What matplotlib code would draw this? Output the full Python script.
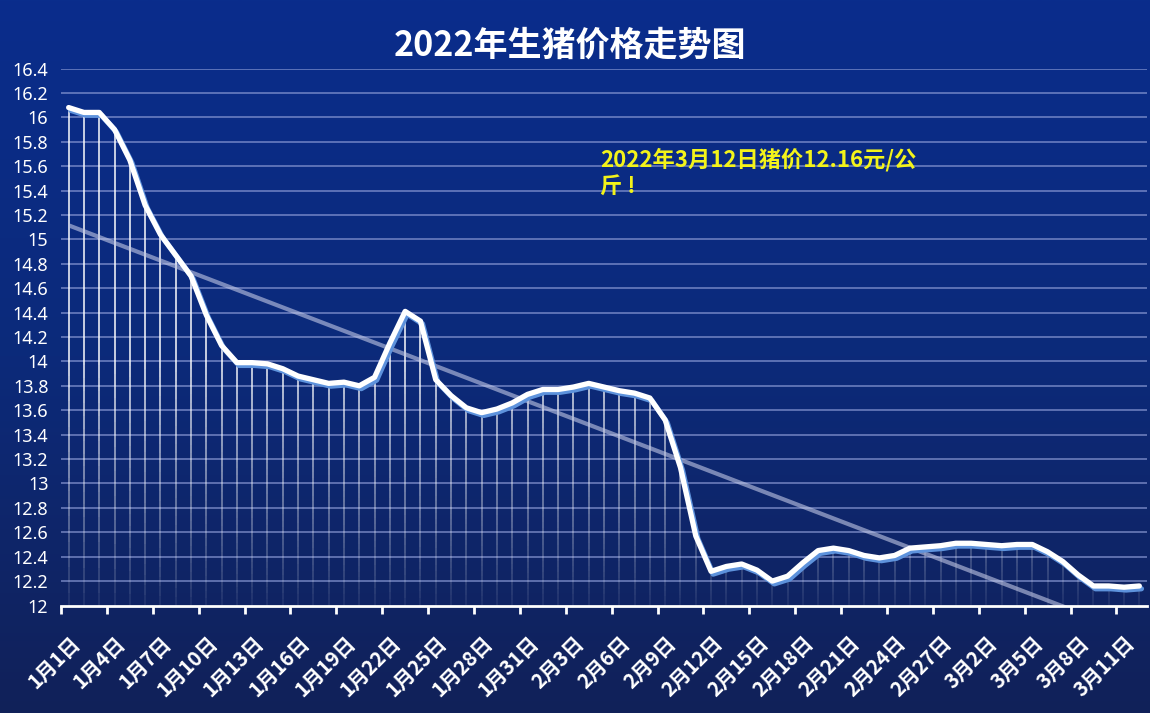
import numpy as np
import matplotlib
matplotlib.use('Agg')
import matplotlib.pyplot as plt
import matplotlib.patheffects as pe
from matplotlib.collections import LineCollection
from matplotlib.colors import LinearSegmentedColormap

## 2022 hog price chart, daily from Jan 1 to Mar 12

plt.rcParams['font.family'] = ['Noto Sans CJK SC', 'DejaVu Sans']
plt.rcParams['font.weight'] = 'bold'

title = '2022年生猪价格走势图'
note = '2022年3月12日猪价12.16元/公\n斤 !'

# categories: 1月1日 ... 3月12日
month_days = [(1, 31), (2, 28), (3, 12)]
dates = [f'{m}月{d}日' for m, n in month_days for d in range(1, n + 1)]

# price, 元/公斤
prices = [16.08, 16.04, 16.04, 15.90, 15.65, 15.28, 15.04, 14.87, 14.70, 14.38,
          14.13, 13.99, 13.99, 13.98, 13.94, 13.88, 13.85, 13.82, 13.83, 13.80,
          13.87, 14.15, 14.41, 14.33, 13.85, 13.72, 13.62, 13.58, 13.61, 13.66,
          13.73, 13.77, 13.77, 13.79, 13.82, 13.79, 13.76, 13.74, 13.70, 13.52,
          13.13, 12.57, 12.28, 12.32, 12.34, 12.29, 12.20, 12.24, 12.35, 12.45,
          12.47, 12.45, 12.41, 12.39, 12.41, 12.47, 12.48, 12.49, 12.51, 12.51,
          12.50, 12.49, 12.50, 12.50, 12.44, 12.36, 12.25, 12.16, 12.16, 12.15,
          12.16]

y_min, y_max, y_step = 12, 16.4, 0.2

x = np.arange(len(prices))
y = np.array(prices)

fig = plt.figure(figsize=(11.5, 7.13), dpi=100)

# background gradient over the whole figure
bg = fig.add_axes([0, 0, 1, 1], zorder=-10)
bg_cmap = LinearSegmentedColormap.from_list('bg', ['#0a2d8c', '#0c2a7a', '#112159'])
bg.imshow(np.linspace(0, 1, 256).reshape(-1, 1), aspect='auto', cmap=bg_cmap,
          extent=[0, 1, 0, 1])
bg.axis('off')

ax = fig.add_axes([61 / 1150, 1 - 605.5 / 713, (1147 - 61) / 1150, (605.5 - 68.5) / 713])
ax.patch.set_alpha(0)
ax.set_xlim(-0.5, len(prices) - 0.5)
ax.set_ylim(y_min, y_max)

# horizontal gridlines
for g in np.arange(y_min + y_step, y_max + 0.01, y_step):
    ax.axhline(g, color='#8c9bd6', lw=1.1, alpha=0.8, zorder=1)

# drop lines, fading towards the axis
segs, cols = [], []
for xi, yi in zip(x, y):
    ys = np.linspace(y_min, yi, 40)
    for a, b in zip(ys[:-1], ys[1:]):
        segs.append([(xi, a), (xi, b)])
        alpha = 0.08 + 0.9 * np.clip((0.5 * (a + b) - y_min) / 2.0, 0, 1)
        cols.append((1, 1, 1, alpha))
ax.add_collection(LineCollection(segs, colors=cols, linewidths=1.1, zorder=2))

# linear trend line
k, b0 = np.polyfit(x, y, 1)
ax.plot(x, k * x + b0, color='#c3c9e6', alpha=0.6, lw=3, zorder=3,
        solid_capstyle='butt')

# price line with soft blue shadow
ax.plot(x, y, color='white', lw=3.8, zorder=4, solid_joinstyle='round',
        solid_capstyle='round',
        path_effects=[pe.SimpleLineShadow(offset=(1.5, -2), shadow_color='#5d92dc',
                                          alpha=1.0),
                      pe.Normal()])

# axes styling
for s in ['left', 'right', 'top']:
    ax.spines[s].set_visible(False)
ax.spines['bottom'].set_color('white')
ax.spines['bottom'].set_linewidth(2)
ax.spines['bottom'].set_zorder(5)

yt = np.round(np.arange(y_min, y_max + 0.01, y_step), 1)
ax.set_yticks(yt)
ax.set_yticklabels([f'{v:g}' for v in yt], color='white', fontsize=13,
                   fontweight='bold', fontfamily=['Noto Sans', 'DejaVu Sans'])
ax.tick_params(axis='y', length=0, pad=9)

# tick marks between categories every 3 days, labels on category centres
ax.set_xticks(np.arange(-0.5, len(prices), 3))
ax.set_xticklabels([])
ax.tick_params(axis='x', which='major', direction='out', length=6, width=2,
               color='white')
ax.set_xticks(x[::3], minor=True)
ax.set_xticklabels(dates[::3], minor=True, rotation=45, ha='right',
                   rotation_mode='anchor', color='white', fontsize=14.5,
                   fontweight='bold')
ax.tick_params(axis='x', which='minor', length=0, pad=19)

fig.text(570 / 1150, 1 - 45 / 713, title, color='white', fontsize=24.5,
         fontweight='bold', ha='center', va='center')
fig.text(600 / 1150, 1 - 148 / 713, note, color='#f3f31a', fontsize=16,
         fontweight='bold', ha='left', va='top', linespacing=1.25)

fig.savefig('out.png', dpi=100, facecolor=fig.get_facecolor())
